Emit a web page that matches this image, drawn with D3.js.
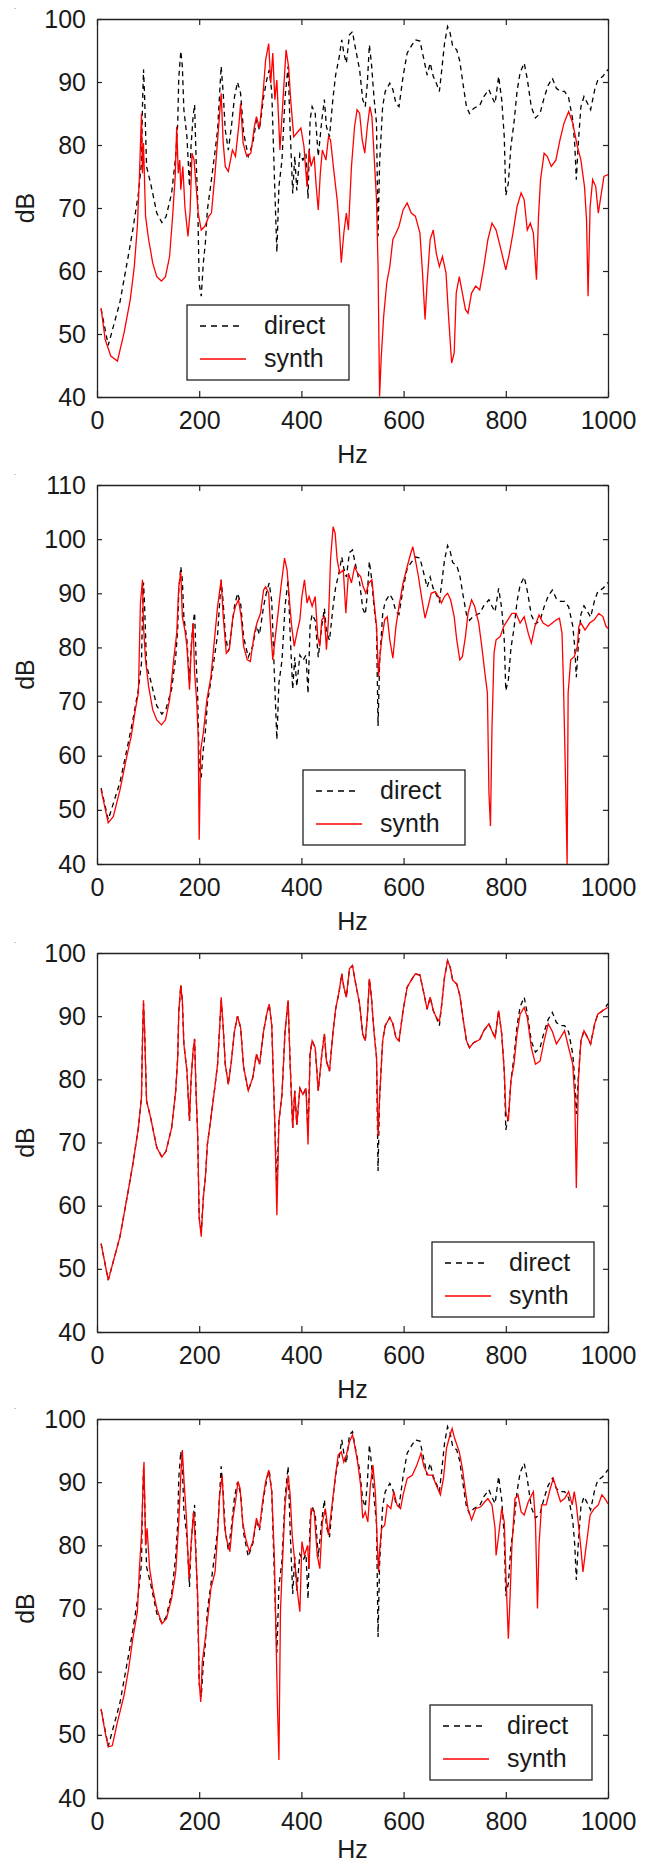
<!DOCTYPE html>
<html>
<head>
<meta charset="utf-8">
<script src="https://cdn.jsdelivr.net/npm/d3@7"></script>
<style>
  html, body { margin: 0; padding: 0; background: #fff; }
  svg { display: block; }
  text { font-family: "Liberation Sans", Arial, sans-serif; fill: #1a1a1a; }
</style>
</head>
<body>
<svg id="chart" width="649" height="1865"></svg>
<script>
// ---------------- DATA ----------------
const xTicks = [0, 200, 400, 600, 800, 1000];
const yTicksA = [40, 50, 60, 70, 80, 90, 100];
const yTicksB = [40, 50, 60, 70, 80, 90, 100, 110];
const seriesNames = ["direct", "synth"];

// measured ("direct") response, identical in all four panels
const directHz = [8,22,45,61,70,81,87,89,91,93,97,105,117,127,135,146,154,158,160,164,167,170,176,181,184,188,191,194,197,200,204,208,212,216,223,231,236,240,243,247,251,257,263,269,275,281,287,296,305,312,318,326,332,337,342,348,352,356,362,368,374,378,383,387,391,397,403,409,413,417,421,427,433,440,445,449,455,462,467,474,479,483,488,494,500,504,509,514,520,525,529,533,537,542,547,550,553,559,564,573,579,585,591,599,607,615,623,632,640,646,652,658,664,670,674,680,686,691,696,704,710,717,723,729,737,749,757,767,773,779,786,792,797,800,805,810,816,822,828,836,842,850,858,867,875,883,891,899,907,915,923,931,935,938,942,947,953,960,966,974,980,990,1000];
const directDb = [54,48.2,55.1,62.3,66.5,72.3,77.1,86.1,92,88.2,76.6,73.9,69.2,67.7,68.6,72.3,78.2,83.5,90.6,94.9,92.5,85.6,81.3,73.4,79.8,84.5,86.4,77.6,71.3,58,56,61.2,64.4,69.7,73.9,79,82.4,88.2,92.5,88.2,82.4,79.2,82.9,87.6,90,88.2,81.9,78.2,80.3,84,82.4,87.6,90.3,91.9,88.5,72.8,63,73.4,77.6,87.6,92.5,82.4,72.3,78.2,72.8,78.6,77.6,78.6,71.5,84,86.1,85,78.2,84,87.2,82.9,81.3,87.6,91.1,94,96.7,94.6,93,97.5,98,96.1,94,91.9,87.2,86.1,89.8,95.9,93,87.6,83.5,65.5,77.1,86.1,88.5,89.8,88.8,86.6,86.1,90.9,94.6,95.7,96.7,96.5,93.5,91.1,93,90.9,89.8,88.5,91.4,96.1,98.8,97.8,95.7,95.1,93.3,89.3,86.1,85,85.8,86.3,87.7,88.8,87.6,86.6,90.9,87.2,81.3,72,74,79.8,83.5,88.5,91.5,93,90.5,86,84.3,85,87.5,89.5,90.6,89,88.5,88.5,87.5,84,80,74.5,80.5,86.1,87.7,86.6,85.6,88.8,90.3,90.9,92];

// panel 1 synthesis
const synth1Hz = [8,16,27,40,53,65,73,79,83,87,89,91,95,101,109,117,126,134,142,148,153,156,159,162,164,168,172,178,182,186,190,194,198,204,211,219,224,231,236,243,247,251,257,265,271,278,281,286,293,301,308,312,318,325,330,336,340,344,348,352,358,364,370,375,379,385,391,399,405,411,415,419,425,429,433,437,441,448,453,457,464,470,474,478,483,488,492,498,504,509,514,519,524,529,534,538,542,547,550,553,556,561,567,573,579,585,591,599,607,615,623,632,637,642,646,652,658,664,670,676,683,688,694,699,703,709,715,721,726,733,741,749,757,765,773,781,789,800,807,814,822,830,836,842,848,854,860,864,868,875,881,889,898,906,914,923,931,940,947,954,958,961,965,970,976,981,986,992,1000];
const synth1Db = [54.1,49.1,46.5,45.7,50.2,55.4,60.7,67.1,75,85,75.5,80.3,68.7,65,61.3,59.1,58.4,59.1,62.3,68.7,75,82.9,75.5,77.6,72.9,76.6,70.2,65.5,69.2,78.7,77.6,73.4,69.2,66.5,67.1,68.7,69.2,75.5,80.8,88.2,80.3,76.6,75.8,79.2,78.2,83.5,86.6,80.3,78.2,78.7,82.9,84.5,82.7,88.2,93.5,96.1,89.8,94.6,87.2,90.3,79.2,87.2,95.1,92.4,87.2,81.3,81.9,82.7,79.8,73.4,79.2,76.6,78.2,73.4,69.7,75.5,79.2,77.6,81.3,80.8,75.5,71.3,67.1,61.3,66,69.2,66.5,76.6,82.9,85.6,85,80.8,78.7,82.9,86.1,84.5,78.7,71.3,60.7,40.1,45.9,52.8,58.1,60.7,65,66,67.1,69.7,70.8,69.2,68.7,66,59.7,52.3,58.1,65,66.5,62.8,60.7,62.3,59.7,52.8,45.4,47,56.5,59.1,56.5,53.9,53.3,56.5,57.6,57,60.7,65,67.6,66.5,63.9,60.2,62.8,66,70.2,72.4,71.3,66.5,67.6,66,58.6,68.7,74.5,78.7,78.2,76.6,77.6,80.8,83.5,85.3,83.5,79.8,77.6,73.4,68.1,56,70.2,74.5,73.4,69.2,71.8,75,75.3];

// panel 2 synthesis
const synth2Hz = [8,22,32,45,57,67,75,81,85,89,91,95,101,109,117,126,134,142,150,156,160,164,167,172,176,181,184,188,191,195,198,200,203,208,215,223,231,236,243,247,253,259,266,271,277,282,287,294,300,308,313,320,326,330,336,340,344,349,355,360,367,372,377,381,386,391,397,401,406,411,415,421,427,432,436,440,445,449,453,457,462,466,470,475,482,487,492,498,504,510,516,521,526,532,538,543,547,551,553,557,563,568,573,579,585,591,599,607,614,618,623,629,636,642,648,654,662,668,674,680,686,692,699,704,710,715,721,726,733,739,747,753,759,764,767,770,773,777,781,789,796,804,812,820,828,836,844,850,857,865,873,883,891,899,905,910,913,917,920,922,927,934,940,943,947,955,964,973,982,990,996,1000];
const synth2Db = [53.7,47.6,48.8,53.7,59.3,63.6,68.5,71.6,88.2,92.5,83.9,77.7,72.8,68.5,66.6,65.7,66.6,70.3,77.7,82.6,91.2,93.9,85.7,83.2,80.2,72.2,79,84.5,75.3,70.3,63.6,44.5,61.1,64.2,70.3,74.6,82.6,87.6,92.5,85.7,78.9,79.6,85.7,87.6,88.8,85.7,80.2,77.7,77.4,82.6,84.5,86.3,90.6,91.2,90,83.2,77.7,82,86.9,91.2,96.5,94.3,88.2,83.9,80.2,82.6,85.1,89.4,92.5,88.2,89.4,87.6,89.4,82,80.2,85.1,85.7,79.6,85.1,96.2,102.3,101.1,96.2,93.7,94.3,86.3,93.7,91.9,94.9,93.7,93.1,91.2,90,91.9,92.5,87.6,83.9,74.6,77.7,81.4,85.1,85.7,81.4,78,83.9,87.6,91.9,94.9,97.4,98.6,96.2,93.1,88.8,85.4,87.6,90,90.3,89.4,88.2,89.4,90,88.8,85.7,81.4,77.7,78.3,82,86.3,88.8,87.6,84.5,80.2,75.3,71.6,53.1,47,65.4,79,81.4,82,83.9,85.1,86.3,86.3,84.5,85.7,82.6,80.8,83.9,86,84.5,83.9,84.5,85.1,85.4,82.6,72.8,55,40,71.6,77.7,78.3,80.2,83.9,84.5,83.2,84.5,85.1,86.3,85.7,83.9,83.5];

// panel 3 synthesis
const synth3Hz = [8,22,45,61,70,81,87,89,91,93,97,105,117,127,135,146,154,158,160,164,167,170,176,181,184,188,191,194,197,200,204,208,212,216,223,231,236,240,243,247,251,257,263,269,275,281,287,296,305,312,318,326,332,337,342,348,352,356,362,368,374,378,383,387,391,397,403,409,413,417,421,427,433,440,445,449,455,462,467,474,479,483,488,494,500,504,509,514,520,525,529,533,537,542,547,550,553,559,564,573,579,585,591,599,607,615,623,632,640,646,652,658,664,670,674,680,686,691,696,704,710,717,723,729,737,749,757,767,773,779,786,792,797,800,805,810,816,822,828,836,842,850,858,867,875,883,891,899,907,915,923,931,935,938,942,947,953,960,966,974,980,990,1000];
const synth3Db = [54,48.2,55.1,62.3,66.5,72.3,77.1,86.1,92.5,88.2,76.6,73.9,69.2,67.7,68.6,72.3,78.2,83.5,90.6,94.9,92.5,85.6,81.3,73.4,79.8,84.5,86.4,77.6,71.3,58,55.1,61.2,64.4,69.7,73.9,79,82.4,88.2,93,88.2,82.4,79.2,82.9,87.6,90,88.2,81.9,78.2,80.3,84,82.4,87.6,90.3,91.9,88.5,72.8,58.5,73.4,77.6,87.6,92.5,82.4,72.3,78.2,72.8,78.6,77.6,78.6,69.7,84,86.1,85,78.2,84,87.2,82.9,81.3,87.6,91.1,94,96.7,94.6,93,97.5,98,96.1,94,91.9,87.2,86.1,89.8,95.9,93,87.6,83.5,71,77.1,86.1,88.5,89.8,88.8,86.6,86.1,90.9,94.6,95.7,96.7,96.5,93.5,91.1,93,90.9,89.8,89.2,91.4,96.1,98.8,97.8,95.7,95.1,93.3,89.3,86.1,85,85.8,86.3,87.7,88.8,87.6,86.6,90.9,87.2,81.3,74.9,73.4,79.8,82.4,87.2,90.3,91.4,89.8,85,82.4,82.9,86.1,88.8,87.6,85.6,86.6,87.7,85,82.4,77.1,62.8,79.8,86.1,87.7,86.6,85.6,88.8,90.3,90.9,91.4];

// panel 4 synthesis
const synth4Hz = [8,16,22,30,40,53,62,70,79,83,87,91,92,95,98,103,109,117,127,136,146,154,160,164,167,170,175,180,184,189,193,197,200,203,206,211,216,223,231,236,240,245,249,253,260,266,271,276,280,285,291,298,305,312,318,324,330,336,342,347,350,353,356,359,363,368,374,378,382,387,393,397,401,406,412,415,419,425,431,436,441,447,453,460,466,472,478,483,488,494,500,504,510,516,520,525,530,535,540,545,548,551,553,557,563,568,575,581,587,594,599,607,617,626,634,640,648,656,664,672,678,684,691,695,700,709,715,721,726,733,741,751,759,765,773,779,781,786,792,797,800,805,808,812,818,824,830,836,844,854,858,862,865,870,879,887,893,899,907,915,923,930,934,938,943,947,951,955,960,965,973,981,988,994,1000];
const synth4Db = [54.1,50.4,48.1,48.3,52,56.3,60.5,65.2,69.5,76.3,81.6,91.7,93.2,80,82.7,76.3,73.2,70,67.6,68.4,71.6,75.8,83.7,91.1,95.1,90.6,84.3,74.7,80,85.3,79.5,72.1,58.4,55.2,61.5,64.7,67.9,73.2,75.8,81.6,88,91.1,83.7,81.1,79,84.3,86.9,90.1,89,83.7,81.1,79,80.6,84.3,82.7,86.9,90.1,91.9,88.5,78.4,66.8,55.2,46,69.5,77.4,86.4,91.1,88,81.6,77.4,72.1,69.5,80.6,78.4,80,76.3,85.8,85.3,78.4,76.3,83.7,85.8,81.6,86.4,90.6,94.3,94.8,93.2,94.3,96.4,97.5,95.9,93.2,89.5,84.3,85.3,83.7,89.5,92.7,88,81.1,75.8,79,82.7,83.2,86.4,85.8,88.5,86.4,85.8,88,90.6,91.1,92.7,94.6,92.4,91.1,91.1,89.5,88,90.6,95.4,97.5,98.5,96.9,94.8,92.2,88.5,85.8,84,85.8,86.1,86.9,87.4,86.4,82.7,78.4,81.6,85.8,83.7,75.8,65.2,71.1,80,87.4,88,85.3,84.8,86.9,88.5,83.7,70,80,86.4,86.4,89,90.6,89,86.9,87.4,88.5,86.4,88.5,86.4,82.7,79.5,75.8,78.4,81.6,84.8,85.8,86.4,88,87.4,86.6];

// ---------------- LAYOUT ----------------
const plotLeft = 97, plotRight = 608;
const panels = [
  { top: 19,   bottom: 397,  yMax: 100, yTicks: yTicksA, sHz: synth1Hz, sDb: synth1Db, leg: [187, 305] },
  { top: 485,  bottom: 864,  yMax: 110, yTicks: yTicksB, sHz: synth2Hz, sDb: synth2Db, leg: [303, 770] },
  { top: 953,  bottom: 1332, yMax: 100, yTicks: yTicksA, sHz: synth3Hz, sDb: synth3Db, leg: [432, 1242] },
  { top: 1419, bottom: 1798, yMax: 100, yTicks: yTicksA, sHz: synth4Hz, sDb: synth4Db, leg: [430, 1705] }
];

const svg = d3.select("#chart");
const FS = 25;
const axisColor = "#222";

panels.forEach((p, i) => {
  const x = d3.scaleLinear().domain([0, 1000]).range([plotLeft, plotRight]);
  const y = d3.scaleLinear().domain([40, p.yMax]).range([p.bottom, p.top]);
  const g = svg.append("g");

  // tiny speck at top-left (scan artifact)
  g.append("rect").attr("x", 14).attr("y", p.top - 11).attr("width", 2).attr("height", 1).attr("fill", "#ccc");

  const clipId = "clip" + i;
  g.append("clipPath").attr("id", clipId).append("rect")
    .attr("x", plotLeft).attr("y", p.top).attr("width", plotRight - plotLeft).attr("height", p.bottom - p.top);

  const line = d3.line().x(d => x(d[0])).y(d => y(d[1]));
  const directPts = directHz.map((h, k) => [h, directDb[k]]);
  const synthPts = p.sHz.map((h, k) => [h, p.sDb[k]]);

  const lines = g.append("g").attr("clip-path", `url(#${clipId})`);
  lines.append("path").datum(directPts).attr("d", line)
    .attr("fill", "none").attr("stroke", "#000").attr("stroke-width", 1.3)
    .attr("stroke-dasharray", "5,4");
  lines.append("path").datum(synthPts).attr("d", line)
    .attr("fill", "none").attr("stroke", "#ff0000").attr("stroke-width", 1.3);

  // axes (inward ticks, MATLAB box style)
  const styleAxis = sel => {
    sel.selectAll("path.domain").attr("stroke", axisColor).attr("stroke-width", 1.3);
    sel.selectAll(".tick line").attr("stroke", axisColor).attr("stroke-width", 1.2);
    sel.selectAll("text").attr("font-size", FS).attr("font-family", '"Liberation Sans", Arial, sans-serif').attr("fill", "#1a1a1a");
  };
  g.append("g").attr("transform", `translate(0,${p.bottom})`)
    .call(d3.axisBottom(x).tickValues(xTicks).tickFormat(d3.format("d")).tickSizeInner(-6).tickSizeOuter(0).tickPadding(14))
    .call(styleAxis);
  g.append("g").attr("transform", `translate(0,${p.top})`)
    .call(d3.axisTop(x).tickValues(xTicks).tickFormat("").tickSizeInner(-6).tickSizeOuter(0))
    .call(styleAxis);
  g.append("g").attr("transform", `translate(${plotLeft},0)`)
    .call(d3.axisLeft(y).tickValues(p.yTicks).tickFormat(d3.format("d")).tickSizeInner(-5).tickSizeOuter(0).tickPadding(11))
    .call(styleAxis);
  g.append("g").attr("transform", `translate(${plotRight},0)`)
    .call(d3.axisRight(y).tickValues(p.yTicks).tickFormat("").tickSizeInner(-5).tickSizeOuter(0))
    .call(styleAxis);

  // axis titles
  g.append("text").attr("x", (plotLeft + plotRight) / 2).attr("y", Math.min(p.bottom + 66, 1858))
    .attr("text-anchor", "middle").attr("font-size", FS).text("Hz");
  g.append("text").attr("transform", `translate(${34},${(p.top + p.bottom) / 2}) rotate(-90)`)
    .attr("text-anchor", "middle").attr("font-size", FS).text("dB");

  // legend
  const lg = g.append("g").attr("transform", `translate(${p.leg[0]},${p.leg[1]})`);
  lg.append("rect").attr("x", 0).attr("y", 0).attr("width", 162).attr("height", 75)
    .attr("fill", "#fff").attr("stroke", axisColor).attr("stroke-width", 1.3);
  lg.append("line").attr("x1", 13).attr("x2", 57).attr("y1", 21).attr("y2", 21)
    .attr("stroke", "#000").attr("stroke-width", 1.3).attr("stroke-dasharray", "6,5");
  lg.append("line").attr("x1", 13).attr("x2", 59).attr("y1", 54).attr("y2", 54)
    .attr("stroke", "#ff0000").attr("stroke-width", 1.3);
  lg.append("text").attr("x", 77).attr("y", 29).attr("font-size", FS).text(seriesNames[0]);
  lg.append("text").attr("x", 77).attr("y", 62).attr("font-size", FS).text(seriesNames[1]);
});
</script>
</body>
</html>
